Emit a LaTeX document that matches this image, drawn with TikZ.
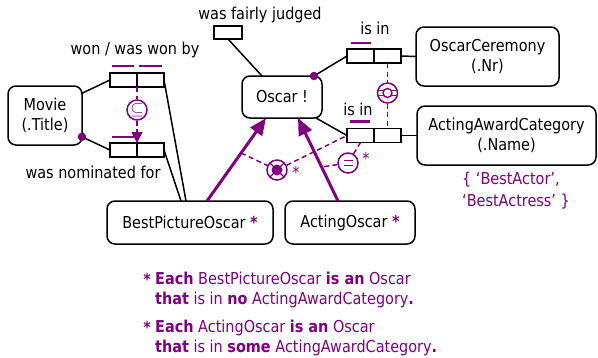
\documentclass[tikz,border=0pt]{standalone}
\usepackage{fontspec}
\setmainfont{DejaVu Sans}[FakeStretch=0.88]
\usetikzlibrary{calc,arrows.meta}
\definecolor{orm}{RGB}{128,0,128}
\newcommand\ormfont{\fontsize{16.4}{20}\selectfont}
\begin{document}
\begin{tikzpicture}[x=1pt,y=-1pt,
  entity/.style={draw, rounded corners=8pt, line width=1.5pt, align=center, font=\ormfont, inner sep=0pt, outer sep=0pt},
  rolebox/.style={draw, line width=1.7pt, minimum width=27pt, minimum height=14pt, inner sep=0pt, outer sep=0pt},
  conn/.style={line width=1.5pt},
  uniq/.style={draw=orm, line width=2.2pt},
  cons/.style={draw=orm, line width=1.5pt, dash pattern=on 5pt off 3.5pt},
  ccirc/.style={circle, draw=orm, line width=1.5pt, minimum size=20pt, inner sep=0pt, fill=white},
  lbl/.style={font=\ormfont, inner sep=0pt},
  subarrow/.style={draw=orm, line width=3pt, -{Triangle[length=17pt,width=14pt,fill=orm]}},
  mdot/.style={circle, fill=orm, minimum size=8.5pt, inner sep=0pt},
]
\useasboundingbox (0,0) rectangle (598,357);

% entity types
\node[entity, minimum width=74pt, minimum height=59pt] (movie) at (45,115.5) {Movie\\(.Title)};
\node[entity, minimum width=80pt, minimum height=42pt] (oscar) at (282,97) {Oscar !};
\node[entity, minimum width=143pt, minimum height=59pt] (ocer) at (487.5,56.5) {OscarCeremony\\(.Nr)};
\node[entity, minimum width=179pt, minimum height=59pt] (aac) at (506.5,135.5) {ActingAwardCategory\\(.Name)};
\node[entity, minimum width=166pt, minimum height=43pt] (bpo) at (190,222.5) {BestPictureOscar {\bfseries\color{orm}*}};
\node[entity, minimum width=130pt, minimum height=43pt] (ao) at (350,222.5) {ActingOscar {\bfseries\color{orm}*}};

% roles
\node[rolebox] (won1) at (123.5,80) {};
\node[rolebox] (won2) at (150.5,80) {};
\node[rolebox] (nom1) at (123.5,150) {};
\node[rolebox] (nom2) at (150.5,150) {};
\node[rolebox, minimum width=28pt, minimum height=13pt] (jud) at (228,32.5) {};
\node[rolebox] (oc1) at (360.5,56) {};
\node[rolebox] (oc2) at (387.5,56) {};
\node[rolebox] (ac1) at (360.5,135.5) {};
\node[rolebox] (ac2) at (387.5,135.5) {};

% labels
\node[lbl] at (135,50) {won / was won by};
\node[lbl] at (93,172) {was nominated for};
\node[lbl] at (260,15) {was fairly judged};
\node[lbl] at (375,28) {is in};
\node[lbl] at (358,109) {is in};
\node[lbl, text=orm, anchor=base west] at (462,184) {\{ ‘BestActor’,};
\node[lbl, text=orm, anchor=base west] at (462,206) {‘BestActress’ \}};

% connectors
\draw[conn] (movie.31) -- (won1.west);
\coordinate (mdotA) at (movie.-30);
\draw[conn] (mdotA) -- (nom1.west);
\node[mdot] at (mdotA) {};
\draw[conn] (won2.east) -- ([xshift=-4pt]bpo.north);
\draw[conn] (nom2.east) -- ([xshift=-9pt]bpo.north);
\draw[conn] (jud.south) -- ([xshift=-20pt]oscar.north);
\coordinate (odot) at ([xshift=-8pt]oscar.north east);
\draw[conn] (odot) -- (oc1.west);
\node[mdot] at (odot) {};
\draw[conn] ([xshift=-6pt]oscar.south east) -- (ac1.west);
\draw[conn] (oc2.east) -- (ocer.west);
\draw[conn] (ac2.east) -- (aac.west);

% uniqueness constraints
\draw[uniq] ([xshift=2pt,yshift=7pt]won1.north west) -- ([xshift=-3pt,yshift=7pt]won1.north east);
\draw[uniq] ([xshift=2pt,yshift=7pt]won2.north west) -- ([xshift=-2pt,yshift=7pt]won2.north east);
\draw[uniq] ([xshift=2pt,yshift=6pt]nom1.north west) -- ([xshift=-3pt,yshift=6pt]nom1.north east);
\draw[uniq] ([xshift=4pt,yshift=6pt]oc1.north west) -- ([xshift=-3pt,yshift=6pt]oc1.north east);
\draw[uniq] ([xshift=3pt,yshift=7pt]ac1.north west) -- ([xshift=-4pt,yshift=7pt]ac1.north east);

% subset constraint
\node[ccirc] (sub) at (137,110) {};
\node[text=orm, inner sep=0pt, font=\fontsize{17}{17}\selectfont] at (sub) {$\subseteq$};
\draw[cons] (won1.south east) -- (sub);
\draw[cons, -{Triangle[length=11pt,width=11pt,fill=orm]}] (sub) -- (nom1.north east);

% OC / AAC constraint
\node[ccirc] (eqx) at (387.5,93) {};
\draw[cons] (oc2.south) -- (eqx);
\draw[cons] (eqx) -- (ac2.north);
\begin{scope}[shift={(eqx)}]
  \draw[orm, line width=1.4pt] (0,0) circle (4.5);
  \draw[orm, line width=1.3pt] (-9.7,-2.5) -- (-3.7,-2.5) (3.7,-2.5) -- (9.7,-2.5)
                               (-9.7,2.5) -- (-3.7,2.5) (3.7,2.5) -- (9.7,2.5);
\end{scope}

% subtype arrows
\coordinate (bpoS) at ([xshift=17pt]bpo.north);
\coordinate (bpoT) at ([xshift=-16pt]oscar.south);
\coordinate (aoS) at ([xshift=-12pt]ao.north);
\coordinate (aoT) at ([xshift=16pt]oscar.south);
\draw[subarrow] (bpoS) -- (bpoT);
\draw[subarrow] (aoS) -- (aoT);
\coordinate (bpoP) at ($(bpoS)!0.578!(bpoT)$);
\coordinate (aoP) at ($(aoS)!0.41!(aoT)$);

% exclusive-or style constraint
\node[ccirc] (xor) at (277,170) {};
\begin{scope}[shift={(xor)}]
  \fill[orm] (0,0) circle (5.5);
  \foreach \a in {45,135,225,315} \draw[orm, line width=1.4pt] (\a:5) -- (\a:10);
\end{scope}
\draw[cons] (bpoP) -- (xor);
\draw[cons] (xor) -- (ac1.west);
\node[lbl, text=orm] at (296,172) {*};

% equality constraint
\node[ccirc] (eq) at (348,163) {};
\begin{scope}[shift={(eq)}]
  \draw[orm, line width=1.7pt] (-4.5,-2.4) -- (4.5,-2.4) (-4.5,2.4) -- (4.5,2.4);
\end{scope}
\draw[cons] (eq) -- (ac1.south);
\draw[cons] (eq) -- (aoP);
\node[lbl, text=orm] at (366,158) {*};

% footnotes
\node[lbl, text=orm, anchor=base east] at (151,285) {\bfseries *};
\node[lbl, text=orm, anchor=base west] (f1) at (155,284) {\textbf{Each} BestPictureOscar \textbf{is an} Oscar};
\node[lbl, text=orm, anchor=base west] (f2) at (155,304) {\textbf{that} is in \textbf{no} ActingAwardCategory\textbf{.}};
\node[lbl, text=orm, anchor=base east] at (151,333) {\bfseries *};
\node[lbl, text=orm, anchor=base west] (f3) at (155,332) {\textbf{Each} ActingOscar \textbf{is an} Oscar};
\node[lbl, text=orm, anchor=base west] (f4) at (155,352) {\textbf{that} is in \textbf{some} ActingAwardCategory\textbf{.}};
\end{tikzpicture}
\end{document}
